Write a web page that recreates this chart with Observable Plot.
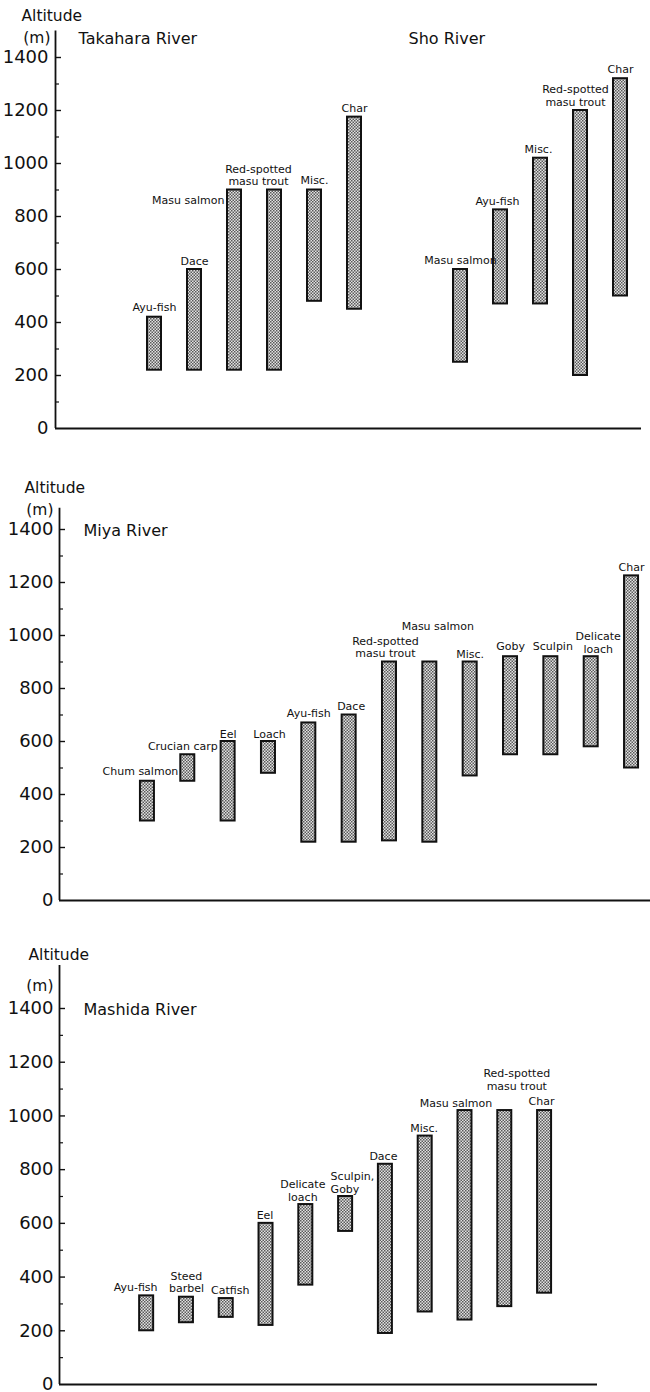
<!DOCTYPE html>
<html>
<head>
<meta charset="utf-8">
<script src="https://cdn.jsdelivr.net/npm/d3@7"></script>
<script src="https://cdn.jsdelivr.net/npm/@observablehq/plot@0.6"></script>
<style>
  body { margin: 0; background: #fff; }
  #chart { width: 650px; }
  #chart svg { display: block; }
</style>
</head>
<body>
<div id="chart"></div>
<script>
// ---------- DATA (altitude ranges in metres) ----------
const takaharaFish = ["Ayu-fish", "Dace", "Masu salmon", "Red-spotted\nmasu trout", "Misc.", "Char"];
const takaharaLow  = [220, 220, 220, 220, 480, 450];
const takaharaHigh = [420, 600, 900, 900, 900, 1175];

const shoFish = ["Masu salmon", "Ayu-fish", "Misc.", "Red-spotted\nmasu trout", "Char"];
const shoLow  = [250, 470, 470, 200, 500];
const shoHigh = [600, 825, 1020, 1200, 1320];

const miyaFish = ["Chum salmon", "Crucian carp", "Eel", "Loach", "Ayu-fish", "Dace",
  "Red-spotted\nmasu trout", "Masu salmon", "Misc.", "Goby", "Sculpin", "Delicate\nloach", "Char"];
const miyaLow  = [300, 450, 300, 480, 220, 220, 225, 220, 470, 550, 550, 580, 500];
const miyaHigh = [450, 550, 600, 600, 670, 700, 900, 900, 900, 920, 920, 920, 1225];

const mashidaFish = ["Ayu-fish", "Steed\nbarbel", "Catfish", "Eel", "Delicate\nloach", "Sculpin,\nGoby",
  "Dace", "Misc.", "Masu salmon", "Red-spotted\nmasu trout", "Char"];
const mashidaLow  = [200, 230, 250, 220, 370, 570, 190, 270, 240, 290, 340];
const mashidaHigh = [330, 325, 320, 600, 670, 700, 820, 925, 1020, 1020, 1020];

const yTicksMajor = [0, 200, 400, 600, 800, 1000, 1200, 1400];
const yTicksMinor = [100, 300, 500, 700, 900, 1100, 1300];
const axisTitle = "Altitude";
const axisUnit = "(m)";

// ---------- LAYOUT / STYLE (not data) ----------
const FONT = "DejaVu Sans";
// label nudges: [dx, dy, textAnchor]
const nudges = {
  "Takahara|Masu salmon": [-10, 14, "end"],
  "Takahara|Red-spotted\nmasu trout": [-16, -5, "middle"],
  "Takahara|Char": [0, -5, "middle"],
  "Takahara|Dace": [0, -5, "middle"],
  "Sho|Ayu-fish": [-3, -5, "middle"],
  "Sho|Misc.": [-2, -5, "middle"],
  "Sho|Red-spotted\nmasu trout": [-5, -5, "middle"],
  "Miya|Chum salmon": [-7, -6, "middle"],
  "Miya|Crucian carp": [-5, -5, "middle"],
  "Miya|Eel": [0, -4, "middle"],
  "Miya|Loach": [1, -4, "middle"],
  "Miya|Dace": [2, -5, "middle"],
  "Miya|Red-spotted\nmasu trout": [-4, -5, "middle"],
  "Miya|Masu salmon": [8, -32, "middle"],
  "Miya|Misc.": [0, -4, "middle"],
  "Miya|Goby": [0, -7, "middle"],
  "Miya|Sculpin": [2, -7, "middle"],
  "Miya|Delicate\nloach": [7, -4, "middle"],
  "Miya|Char": [0, -5, "middle"],
  "Mashida|Ayu-fish": [-11, -5, "middle"],
  "Mashida|Steed\nbarbel": [0, -5, "middle"],
  "Mashida|Catfish": [4, -5, "middle"],
  "Mashida|Eel": [-1, -4, "middle"],
  "Mashida|Delicate\nloach": [-3, -4, "middle"],
  "Mashida|Sculpin,\nGoby": [-15, -4, "start"],
  "Mashida|Dace": [-2, -4, "middle"],
  "Mashida|Misc.": [-1, -4, "middle"],
  "Mashida|Masu salmon": [-9, -4, "middle"],
  "Mashida|Red-spotted\nmasu trout": [12, -21, "middle"],
  "Mashida|Char": [-3, -6, "middle"]
};

function rows(group, names, lows, highs, slot0) {
  return names.map((name, i) => ({group, name, low: lows[i], high: highs[i], slot: slot0 + i}));
}

const panels = [
  {
    key: "p1", height: 455, marginTop: 57, marginBottom: 27, marginLeft: 55, marginRight: 9,
    xDomain: [-2.475, 12.175], axisTop: 1500, tickPadding: 7,
    data: [
      ...rows("Takahara", takaharaFish, takaharaLow, takaharaHigh, 0),
      ...rows("Sho", shoFish, shoLow, shoHigh, takaharaFish.length + 1.65)
    ],
    titles: [
      {text: "Takahara River", dx: 23, dy: -14},
      {text: "Sho River", dx: 353, dy: -14}
    ],
    altitude: [-34, -37], unit: [-5, -15]
  },
  {
    key: "p2", height: 465, marginTop: 74, marginBottom: 20, marginLeft: 59, marginRight: 0,
    xDomain: [-2.18, 12.47], axisTop: 1480, tickPadding: 6,
    data: rows("Miya", miyaFish, miyaLow, miyaHigh, 0),
    titles: [{text: "Miya River", dx: 24, dy: 6}],
    altitude: [-35, -37], unit: [-6, -15]
  },
  {
    key: "p3", height: 472, marginTop: 88, marginBottom: 8, marginLeft: 59, marginRight: 53,
    xDomain: [-2.19, 11.33], axisTop: 1560, tickPadding: 6,
    data: rows("Mashida", mashidaFish, mashidaLow, mashidaHigh, 0),
    titles: [{text: "Mashida River", dx: 24, dy: 6}],
    altitude: [-31, -49], unit: [-6, -18]
  }
];

const chart = document.getElementById("chart");

for (const p of panels) {
  const xmin = p.xDomain[0];
  const labelMarks = p.data.map(d => {
    const [dx, dy, anchor] = nudges[d.group + "|" + d.name] || [0, -6, "middle"];
    return Plot.text([d], {
      x: "slot", y: "high", text: "name",
      dx, dy, textAnchor: anchor, lineAnchor: "bottom",
      lineHeight: 1.12, fontSize: 11, fill: "#111"
    });
  });

  const svg = Plot.plot({
    width: 650,
    height: p.height,
    marginTop: p.marginTop,
    marginBottom: p.marginBottom,
    marginLeft: p.marginLeft,
    marginRight: p.marginRight,
    style: {fontFamily: FONT, color: "#111", background: "#fff", overflow: "visible"},
    x: {type: "linear", domain: p.xDomain, axis: null},
    y: {domain: [0, 1400], axis: null},
    marks: [
      // y axis labels
      Plot.axisY(yTicksMajor, {tickSize: 0, tickPadding: p.tickPadding, tickFormat: d => String(d), fontSize: 18, fill: "#111"}),
      // inward ticks
      Plot.ruleY(yTicksMajor.filter(v => v > 0), {y: d => d, x1: xmin, x2: xmin, insetRight: -6, strokeWidth: 1.4, stroke: "#111"}),
      Plot.ruleY(yTicksMinor, {y: d => d, x1: xmin, x2: xmin, insetRight: -4, strokeWidth: 1.2, stroke: "#111"}),
      // axis lines
      Plot.ruleX([xmin], {y1: 0, y2: p.axisTop, strokeWidth: 1.8, stroke: "#111"}),
      Plot.ruleY([0], {strokeWidth: 1.8, stroke: "#111"}),
      // range bars
      Plot.rect(p.data, {
        x1: "slot", x2: "slot", y1: "low", y2: "high",
        insetLeft: -7, insetRight: -7,
        fill: `url(#ht-${p.key})`, stroke: "#111", strokeWidth: 2
      }),
      ...labelMarks,
      // titles
      ...p.titles.map(t => Plot.text([t.text], {
        frameAnchor: "top-left", text: d => d, dx: t.dx, dy: t.dy,
        textAnchor: "start", lineAnchor: "bottom", fontSize: 16, fill: "#111"
      })),
      Plot.text([axisTitle], {
        frameAnchor: "top-left", text: d => d, dx: p.altitude[0], dy: p.altitude[1],
        textAnchor: "start", lineAnchor: "bottom", fontSize: 15.5, fill: "#111"
      }),
      Plot.text([axisUnit], {
        frameAnchor: "top-left", text: d => d, dx: p.unit[0], dy: p.unit[1],
        textAnchor: "end", lineAnchor: "bottom", fontSize: 15.5, fill: "#111"
      })
    ]
  });

  const defs = d3.select(svg).insert("defs", ":first-child");
  const pat = defs.append("pattern")
    .attr("id", `ht-${p.key}`)
    .attr("width", 3).attr("height", 3)
    .attr("patternUnits", "userSpaceOnUse");
  pat.append("rect").attr("width", 3).attr("height", 3).attr("fill", "#e2e2e2");
  pat.append("rect").attr("width", 1.5).attr("height", 1.5).attr("fill", "#5a5a5a");
  pat.append("rect").attr("x", 1.5).attr("y", 1.5).attr("width", 1.5).attr("height", 1.5).attr("fill", "#5a5a5a");

  chart.appendChild(svg);
}
</script>
</body>
</html>
